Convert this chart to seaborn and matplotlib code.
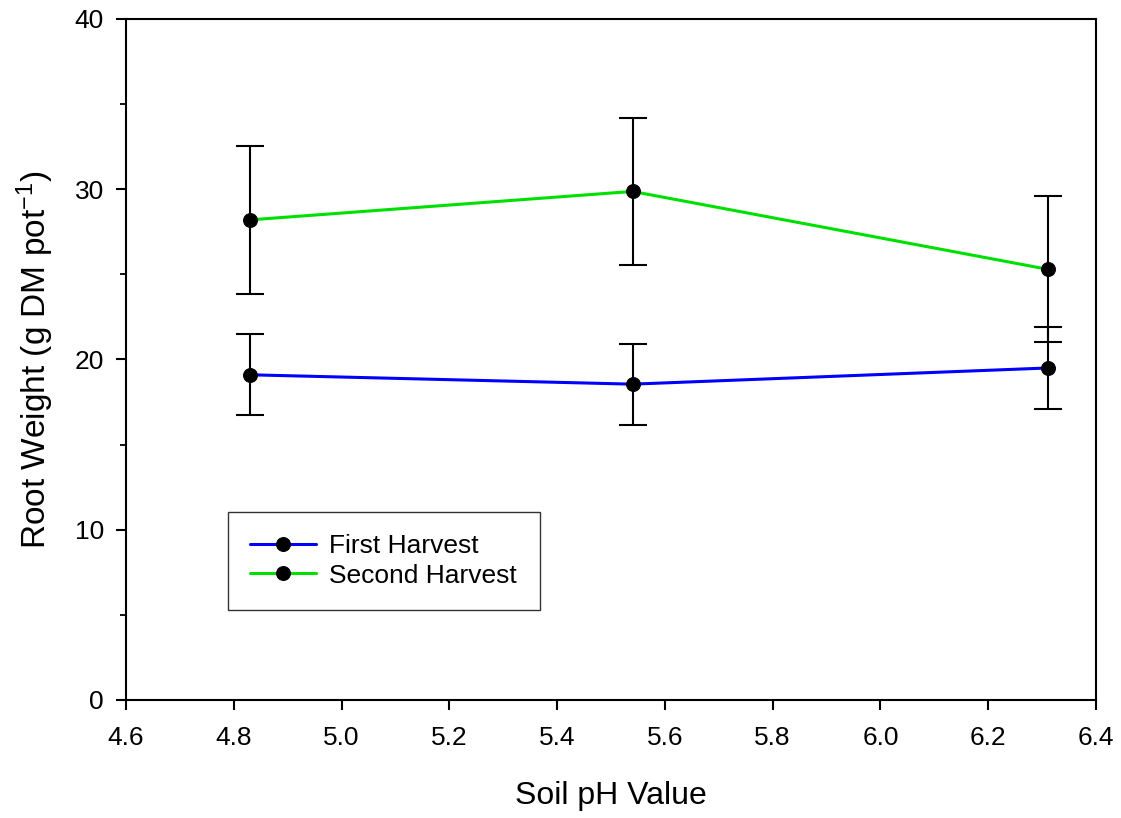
import matplotlib
matplotlib.use("Agg")
import matplotlib.pyplot as plt
import seaborn as sns
import pandas as pd

ph = [4.83, 5.54, 6.31]
first_harvest = [19.1, 18.55, 19.5]
first_err = [2.38, 2.37, 2.39]
second_harvest = [28.2, 29.87, 25.3]
second_err = [4.35, 4.33, 4.3]
series_names = ["First Harvest", "Second Harvest"]
series_colors = ["#0000ff", "#00e000"]
x_ticks = [4.6, 4.8, 5.0, 5.2, 5.4, 5.6, 5.8, 6.0, 6.2, 6.4]
y_ticks = [0, 10, 20, 30, 40]

sns.set_theme(style="ticks")
plt.rcParams['font.family'] = ['Liberation Sans', 'DejaVu Sans']
plt.rcParams['mathtext.fontset'] = 'custom'
plt.rcParams['mathtext.rm'] = 'Liberation Sans'
plt.rcParams['mathtext.it'] = 'Liberation Sans'
plt.rcParams['mathtext.default'] = 'regular'

df = pd.DataFrame({
    "pH": ph * 2,
    "weight": first_harvest + second_harvest,
    "err": first_err + second_err,
    "series": [series_names[0]] * 3 + [series_names[1]] * 3,
})

fig = plt.figure(figsize=(11.21, 8.18), dpi=100)
ax = fig.add_axes([0.1124, 0.1443, 0.8653, 0.8325])

palette = dict(zip(series_names, series_colors))
for name in series_names:
    sub = df[df["series"] == name]
    ax.errorbar(sub["pH"], sub["weight"], yerr=sub["err"], fmt="none",
                ecolor="black", elinewidth=1.5, capsize=10, capthick=1.5, zorder=2)

sns.lineplot(data=df, x="pH", y="weight", hue="series", palette=palette,
             marker="o", markersize=10, markerfacecolor="black",
             markeredgecolor="black", linewidth=2.2, ax=ax, zorder=3,
             estimator=None, sort=True)

ax.set_xlim(4.6, 6.4)
ax.set_ylim(0, 40)
ax.set_xticks(x_ticks)
ax.set_xticklabels([f"{v:.1f}" for v in x_ticks])
ax.set_yticks(y_ticks)
ax.set_yticks([5, 15, 25, 35], minor=True)
ax.tick_params(axis="both", which="major", direction="out", length=7, width=1.5,
               labelsize=19, color="black", labelcolor="black", pad=9)
ax.tick_params(axis="x", which="major", pad=12)
ax.tick_params(axis="y", which="minor", direction="out", length=4, width=1.3, color="black")
for s in ax.spines.values():
    s.set_color("black")
    s.set_linewidth(1.5)

ax.set_xlabel("Soil pH Value", fontsize=23, labelpad=22, color="black")
ax.set_ylabel(r"Root Weight (g DM pot$^{-1}$)", fontsize=24, labelpad=13, color="black")

handles, labels = ax.get_legend_handles_labels()
leg = ax.legend(handles, labels, loc="lower left", bbox_to_anchor=(0.105, 0.132),
                borderaxespad=0, fontsize=19, frameon=True, fancybox=False,
                edgecolor="black", borderpad=0.85, handlelength=2.5,
                handletextpad=0.5, labelspacing=0.2)
leg.get_frame().set_linewidth(1.0)
for t in leg.get_texts():
    t.set_color("black")

fig.savefig("out.png", dpi=100)
